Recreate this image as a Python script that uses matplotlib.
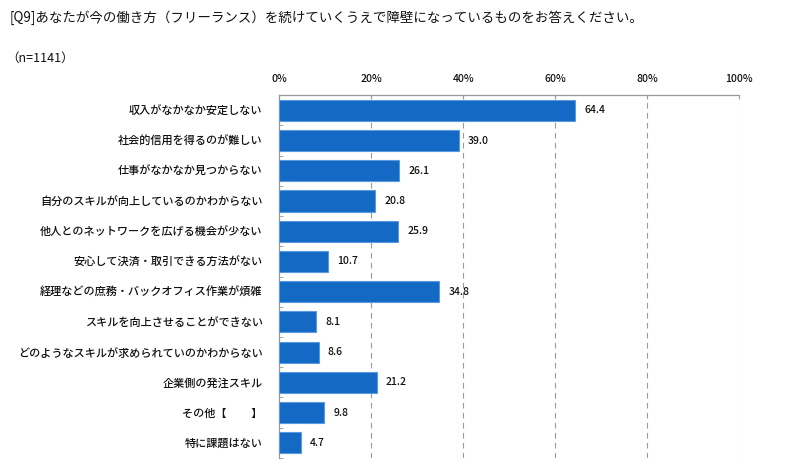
import matplotlib
matplotlib.use("Agg")
import matplotlib.pyplot as plt
import numpy as np

plt.rcParams["font.family"] = ["Noto Sans CJK JP", "DejaVu Sans"]

TITLE = "[Q9]あなたが今の働き方（フリーランス）を続けていくうえで障壁になっているものをお答えください。"
N_LABEL = "（n=1141）"

categories = [
    "収入がなかなか安定しない",
    "社会的信用を得るのが難しい",
    "仕事がなかなか見つからない",
    "自分のスキルが向上しているのかわからない",
    "他人とのネットワークを広げる機会が少ない",
    "安心して決済・取引できる方法がない",
    "経理などの庶務・バックオフィス作業が煩雑",
    "スキルを向上させることができない",
    "どのようなスキルが求められていのかわからない",
    "企業側の発注スキル",
    "その他【　　 】",
    "特に課題はない",
]
values = [64.4, 39.0, 26.1, 20.8, 25.9, 10.7, 34.8, 8.1, 8.6, 21.2, 9.8, 4.7]
xticks = [0, 20, 40, 60, 80, 100]
xtick_labels = ["0%", "20%", "40%", "60%", "80%", "100%"]

BAR_COLOR = "#1369c4"

fig = plt.figure(figsize=(8, 4.76), dpi=100)
ax = fig.add_axes([0.349, 0.038, 0.575, 0.762])

y = np.arange(len(categories))
ax.barh(y, values, height=0.7, color=BAR_COLOR, edgecolor="#5a9be0", linewidth=0.8, zorder=3)
for yi, v in zip(y, values):
    ax.text(v + 2.0, yi, f"{v:.1f}", va="center", ha="left", fontsize=7.5,
            fontweight="medium", color="#111111")

ax.set_ylim(len(categories) - 0.5, -0.5)
ax.set_xlim(0, 100)
ax.set_yticks(y)
ax.set_yticklabels(categories, fontsize=8, fontweight="medium", color="#111111")
ax.set_yticks(np.arange(-0.5, len(categories), 1), minor=True)
ax.tick_params(axis="y", which="major", length=0, pad=12)
ax.tick_params(axis="y", which="minor", length=3, direction="in", color="#999999")

ax.xaxis.tick_top()
ax.set_xticks(xticks)
ax.set_xticklabels(xtick_labels, fontsize=7.5, fontweight="medium", color="#111111")
ax.tick_params(axis="x", length=3, direction="in", color="#999999", pad=8)

for xv in xticks[1:]:
    ax.axvline(xv, color="#999999", linestyle=(0, (5, 4)), linewidth=0.8, zorder=1)

for s in ["right", "bottom"]:
    ax.spines[s].set_visible(False)
for s in ["top", "left"]:
    ax.spines[s].set_color("#999999")
    ax.spines[s].set_linewidth(0.9)

fig.text(0.012, 0.962, TITLE, fontsize=9.7, ha="left", va="center", color="#111111")
fig.text(0.008, 0.878, N_LABEL, fontsize=9, ha="left", va="center", color="#111111")

fig.savefig("out.png", dpi=100)
